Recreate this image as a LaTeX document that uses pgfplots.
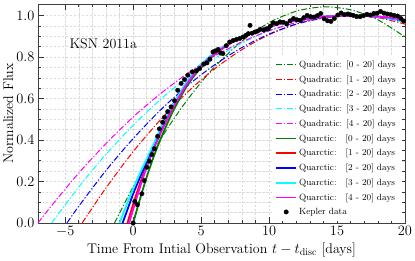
\documentclass[border=0pt]{standalone}
\usepackage{pgfplots}
\pgfplotsset{compat=1.18}
\definecolor{mgreen}{RGB}{0,128,0}
\definecolor{mred}{RGB}{255,0,0}
\definecolor{mblue}{RGB}{0,0,255}
\definecolor{mcyan}{RGB}{0,255,255}
\definecolor{mmag}{RGB}{255,0,255}
\tikzset{dd/.style={line width=1pt, dash pattern=on 6pt off 2pt on 1.2pt off 2pt},
  qs/.style={line width=1.8pt}}
\begin{document}
\begin{tikzpicture}
\begin{axis}[
  at={(0,0)}, anchor=south west,
  scale only axis, width=367pt, height=219pt,
  xmin=-7, xmax=20, ymin=0, ymax=1.056,
  xtick={-5,0,5,10,15,20}, ytick={0,0.2,0.4,0.6,0.8,1.0},
  minor x tick num=4, minor y tick num=3,
  grid=both,
  major grid style={dash pattern=on 2.5pt off 1.5pt, black!14, line width=0.5pt},
  minor grid style={dash pattern=on 2.5pt off 1.5pt, black!14, line width=0.5pt},
  tick align=inside, xtick pos=both, ytick pos=both,
  major tick length=6pt, minor tick length=3.5pt,
  axis line style={black!75, line width=0.8pt},
  every tick/.style={black!80, line width=0.6pt},
  tick label style={font=\fontsize{13.5}{16}\selectfont},
  label style={font=\fontsize{14}{17}\selectfont},
  xlabel={Time From Intial Observation $t - t_{\mathrm{disc}}$ [days]},
  ylabel={Normalized Flux},
  xlabel style={at={(axis description cs:0.5,0)}, anchor=base, yshift=-30.5pt},
  ylabel style={at={(axis description cs:-0.0681,0.5)}, anchor=base},
  yticklabel style={/pgf/number format/.cd, fixed, fixed zerofill, precision=1},
  legend cell align=left,
  legend image code/.code={\draw[mark repeat=2,mark phase=2] plot coordinates {(0pt,0pt) (10pt,0pt) (20pt,0pt)};},
  legend style={at={(1,0)}, anchor=south east, xshift=-4pt, yshift=3pt,
    draw=white, fill=white,
    font=\fontsize{9}{10.5}\selectfont, row sep=2.5pt},
]
% Quadratic fits
\addplot[color=mgreen, dd, smooth] coordinates {(-1.37,0) (0,0.175) (1,0.293) (2,0.402) (3,0.503) (4,0.595) (5,0.678) (6,0.753) (8,0.877) (10,0.966) (12,1.021) (14,1.042) (16,1.028) (18,0.98) (20,0.897)};
\addlegendentry{Quadratic: [0 - 20] days}
\addplot[color=mred, dd, smooth] coordinates {(-3.75,0) (-2,0.169) (0,0.344) (2,0.497) (4,0.631) (6,0.744) (8,0.836) (10,0.908) (12,0.959) (14,0.990) (16,1.0) (18,0.990) (20,0.959)};
\addlegendentry{Quadratic: [1 - 20] days}
\addplot[color=mblue, dd, smooth] coordinates {(-4.87,0) (-4,0.081) (-2,0.253) (0,0.407) (2,0.544) (4,0.662) (6,0.763) (8,0.846) (10,0.911) (12,0.959) (14,0.988) (16,1.0) (18,0.994) (20,0.969)};
\addlegendentry{Quadratic: [2 - 20] days}
\addplot[color=mcyan, dd, smooth] coordinates {(-6,0) (-4,0.174) (-2,0.331) (0,0.471) (2,0.595) (4,0.702) (6,0.793) (8,0.868) (10,0.926) (12,0.967) (14,0.992) (16,1.0) (18,0.992) (20,0.967)};
\addlegendentry{Quadratic: [3 - 20] days}
\addplot[color=mmag, dd, smooth] coordinates {(-7,0) (-6,0.084) (-4,0.241) (-2,0.383) (0,0.511) (2,0.623) (4,0.721) (6,0.805) (8,0.873) (10,0.927) (12,0.966) (14,0.990) (16,1.0) (18,0.995) (20,0.975)};
\addlegendentry{Quadratic: [4 - 20] days}
% Quartic fits
\addplot[color=mgreen, qs, smooth] coordinates {(0,0) (0.5,0.115) (1,0.222) (1.5,0.318) (2,0.402) (2.5,0.478) (3,0.548) (4,0.665) (5,0.75) (6,0.812) (7,0.86) (8,0.896) (9,0.924) (10,0.946) (11,0.963) (12,0.977) (13,0.987) (14,0.994) (15,0.998) (16,1.0) (17,0.999) (18,0.995) (19,0.988) (20,0.978)};
\addlegendentry{Quarctic:\quad[0 - 20] days}
\addplot[color=mred, qs, smooth] coordinates {(-0.42,0) (0,0.09) (0.5,0.19) (1,0.28) (1.5,0.362) (2,0.435) (2.5,0.503) (3,0.566) (4,0.676) (5,0.758) (6,0.816) (7,0.862) (8,0.897) (9,0.925) (10,0.947) (11,0.964) (12,0.977) (13,0.987) (14,0.994) (15,0.998) (16,1.0) (17,0.999) (18,0.995) (19,0.988) (20,0.978)};
\addlegendentry{Quarctic:\quad[1 - 20] days}
\addplot[color=mblue, qs, smooth] coordinates {(-0.78,0) (-0.5,0.05) (0,0.14) (0.5,0.22) (1,0.295) (1.5,0.37) (2,0.445) (2.5,0.515) (3,0.578) (4,0.683) (5,0.763) (6,0.82) (7,0.864) (8,0.898) (9,0.926) (10,0.947) (11,0.964) (12,0.977) (13,0.987) (14,0.994) (15,0.998) (16,1.0) (17,0.999) (18,0.994) (19,0.987) (20,0.976)};
\addlegendentry{Quarctic:\quad[2 - 20] days}
\addplot[color=mcyan, qs, smooth] coordinates {(-1.0,0) (-0.5,0.085) (0,0.165) (0.5,0.24) (1,0.31) (1.5,0.38) (2,0.455) (2.5,0.52) (3,0.58) (4,0.685) (5,0.765) (6,0.822) (7,0.865) (8,0.899) (9,0.926) (10,0.947) (11,0.964) (12,0.977) (13,0.987) (14,0.994) (15,0.998) (16,1.0) (17,0.999) (18,0.994) (19,0.987) (20,0.976)};
\addlegendentry{Quarctic:\quad[3 - 20] days}
\addplot[color=mmag, qs, smooth] coordinates {(-0.3,0) (0,0.065) (0.5,0.172) (1,0.27) (1.5,0.355) (2,0.43) (2.5,0.5) (3,0.565) (4,0.675) (5,0.757) (6,0.815) (7,0.862) (8,0.897) (9,0.925) (10,0.947) (11,0.964) (12,0.977) (13,0.987) (14,0.994) (15,0.998) (16,1.0) (17,0.999) (18,0.995) (19,0.989) (20,0.979)};
\addlegendentry{Quarctic:\quad[4 - 20] days}
% Kepler data
\addplot[only marks, mark=*, mark size=2.2pt, black] coordinates {
(0.00,0.000) (0.12,0.104) (0.32,0.088) (0.64,0.141) (0.81,0.205) (1.01,0.269) (1.19,0.298) (1.38,0.330) (1.56,0.358) (1.80,0.418) (1.93,0.454) (2.17,0.486) (2.30,0.510) (2.54,0.537) (2.79,0.560) (3.04,0.590) (3.28,0.640) (3.53,0.673) (3.78,0.692) (4.02,0.713) (4.35,0.729) (4.64,0.734) (4.89,0.745) (5.19,0.766) (5.43,0.772) (5.65,0.790) (5.87,0.825) (6.05,0.830) (6.25,0.837) (6.45,0.820) (6.60,0.817) (6.85,0.855) (7.10,0.873) (7.35,0.880) (7.60,0.885) (7.85,0.890) (8.10,0.897) (8.30,0.905) (8.47,0.913) (8.60,0.953) (8.75,0.915) (8.96,0.921) (9.15,0.925) (9.33,0.933) (9.60,0.930) (9.80,0.935) (9.95,0.937) (10.10,0.950) (10.30,0.965) (10.55,0.962) (10.80,0.970) (11.05,0.968) (11.30,0.960) (11.55,0.975) (11.80,0.986) (12.05,0.980) (12.30,0.977) (12.55,0.990) (12.80,1.001) (13.05,0.995) (13.30,0.993) (13.55,1.000) (13.80,1.010) (14.05,0.985) (14.30,0.975) (14.55,0.972) (14.80,0.986) (15.05,1.003) (15.30,1.013) (15.55,1.005) (15.80,1.008) (16.00,1.004) (16.20,1.001) (16.45,0.995) (16.70,0.995) (16.95,1.000) (17.20,1.006) (17.45,1.003) (17.70,1.010) (17.95,1.012) (18.20,1.020) (18.45,1.012) (18.70,1.008) (18.95,1.005) (19.20,1.001) (19.45,0.998) (19.70,0.986) (19.90,0.974)};
\addlegendentry{Kepler data}
\node[font=\fontsize{14}{17}\selectfont] at (axis cs:-2.2,0.865) {KSN 2011a};
\end{axis}
\pgfresetboundingbox
\path[use as bounding box] (-38pt,-37pt) rectangle (377pt,223pt);
\end{tikzpicture}
\end{document}
